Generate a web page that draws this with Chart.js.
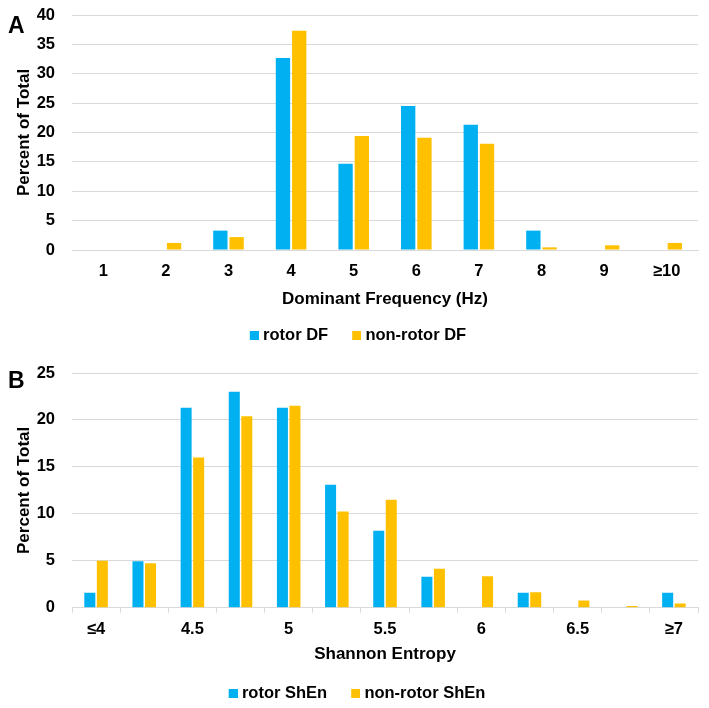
<!DOCTYPE html>
<html>
<head>
<meta charset="utf-8">
<script src="https://cdn.jsdelivr.net/npm/chart.js@4.4.1/dist/chart.umd.min.js"></script>
<style>
  html, body { margin: 0; padding: 0; background: #fff; overflow: hidden; }
  body { width: 709px; height: 708px; position: relative; font-family: 'Liberation Sans', Arial, sans-serif; }
  .panel { position: absolute; left: 0; width: 709px; }
  .tag { position: absolute; left: 8px; font-weight: bold; font-size: 23px; line-height: 23px; color: #000; }
</style>
</head>
<body>
<div class="panel" style="top:0;height:354px"><canvas id="chartA"></canvas></div>
<div class="panel" style="top:355px;height:357px"><canvas id="chartB"></canvas></div>
<div class="tag" style="top:14px">A</div>
<div class="tag" style="top:369px">B</div>
<script>
// panel A - dominant frequency
const dfLabels = ['1', '2', '3', '4', '5', '6', '7', '8', '9', '≥10'];
const rotorDF = [0, 0, 3.3, 32.7, 14.7, 24.5, 21.3, 3.3, 0, 0];
const nonRotorDF = [0, 1.2, 2.2, 37.3, 19.4, 19.1, 18.1, 0.45, 0.8, 1.2];
const dfTicks = [0, 5, 10, 15, 20, 25, 30, 35, 40];

// panel B - Shannon entropy (labels only on every other bin)
const shenLabels = ['≤4', '', '4.5', '', '5', '', '5.5', '', '6', '', '6.5', '', '≥7'];
const rotorShEn = [1.6, 4.95, 21.3, 23.0, 21.3, 13.1, 8.2, 3.3, 0, 1.6, 0, 0, 1.6];
const nonRotorShEn = [5.0, 4.75, 16.0, 20.4, 21.5, 10.25, 11.5, 4.15, 3.35, 1.65, 0.78, 0.18, 0.45];
const shenTicks = [0, 5, 10, 15, 20, 25];

const BLUE = '#00b0f0';
const GOLD = '#ffc000';
const GRID = '#d9d9d9';
const FONT = "'Liberation Sans', Arial, sans-serif";

Chart.defaults.font.family = FONT;
Chart.defaults.color = '#000';
Chart.defaults.animation = false;

// legend swatch: square sits on the right of a wider image so the text gap is tighter
function swatch(color) {
    const c = document.createElement('canvas');
    c.width = 17; c.height = 9;
    const g = c.getContext('2d');
    g.fillStyle = color;
    g.fillRect(8, 0, 9, 9);
    return c;
}
const swatches = [swatch(BLUE), swatch(GOLD)];

// nudge the legend a few px right, like the original
const legendShift = {
    id: 'legendShift',
    afterLayout(chart, args, opts) {
        chart.legend.left += opts.dx;
        chart.legend.right += opts.dx;
    }
};

function makeChart(id, labels, a, b, names, yTicks, xTitle, opts) {
    const ctx = document.getElementById(id).getContext('2d');
    return new Chart(ctx, {
        type: 'bar',
        data: {
            labels: labels,
            datasets: [
                { label: names[0], data: a, backgroundColor: BLUE, categoryPercentage: 0.52, barPercentage: 0.88 },
                { label: names[1], data: b, backgroundColor: GOLD, categoryPercentage: 0.52, barPercentage: 0.88 }
            ]
        },
        plugins: [legendShift],
        options: {
            responsive: true,
            maintainAspectRatio: false,
            layout: { padding: { left: 0, right: 11, top: opts.top, bottom: 0 } },
            plugins: {
                tooltip: { enabled: false },
                legendShift: { dx: opts.legendDx },
                legend: {
                    position: 'bottom',
                    labels: {
                        usePointStyle: true,
                        boxWidth: 9, boxHeight: 9, padding: 20,
                        font: { size: 16.5, weight: 'bold' }, color: '#000',
                        generateLabels: chart => {
                            const items = Chart.defaults.plugins.legend.labels.generateLabels(chart);
                            items.forEach((it, i) => { it.pointStyle = swatches[i]; });
                            return items;
                        }
                    }
                }
            },
            scales: {
                x: {
                    grid: opts.xGrid,
                    border: { display: true, color: GRID },
                    ticks: { autoSkip: false, maxRotation: 0, padding: opts.xPad, font: { size: 16.5, weight: 'bold' }, color: '#000' },
                    title: { display: true, text: xTitle, font: { size: 17, weight: 'bold', lineHeight: 1 }, color: '#000', padding: { top: 0, bottom: opts.titlePad } },
                    afterFit: s => { s.height = opts.xHeight; }
                },
                y: {
                    min: yTicks[0],
                    max: yTicks[yTicks.length - 1],
                    afterBuildTicks: s => { s.ticks = yTicks.map(v => ({ value: v })); },
                    // invisible tick marks push the labels left without adding top padding
                    grid: { color: GRID, lineWidth: 1, drawTicks: true, tickLength: 17, tickColor: 'rgba(0,0,0,0)' },
                    border: { display: false },
                    ticks: { padding: 0, font: { size: 16.5, weight: 'bold' }, color: '#000' },
                    title: { display: true, text: 'Percent of Total', font: { size: 17, weight: 'bold' }, color: '#000', padding: { top: 14, bottom: 0 } },
                    afterFit: s => { s.width = 72; }
                }
            }
        }
    });
}

makeChart('chartA', dfLabels, rotorDF, nonRotorDF, ['rotor DF', 'non-rotor DF'], dfTicks,
    'Dominant Frequency (Hz)',
    { top: 15, xHeight: 57.5, xPad: 12, titlePad: 0, legendDx: 7,
      xGrid: { display: false, drawTicks: false } });

makeChart('chartB', shenLabels, rotorShEn, nonRotorShEn, ['rotor ShEn', 'non-rotor ShEn'], shenTicks,
    'Shannon Entropy',
    { top: 18, xHeight: 57.75, xPad: 7, titlePad: 2.5, legendDx: 6,
      xGrid: { display: true, drawOnChartArea: false, drawTicks: true, tickLength: 5, color: GRID } });
</script>
</body>
</html>
